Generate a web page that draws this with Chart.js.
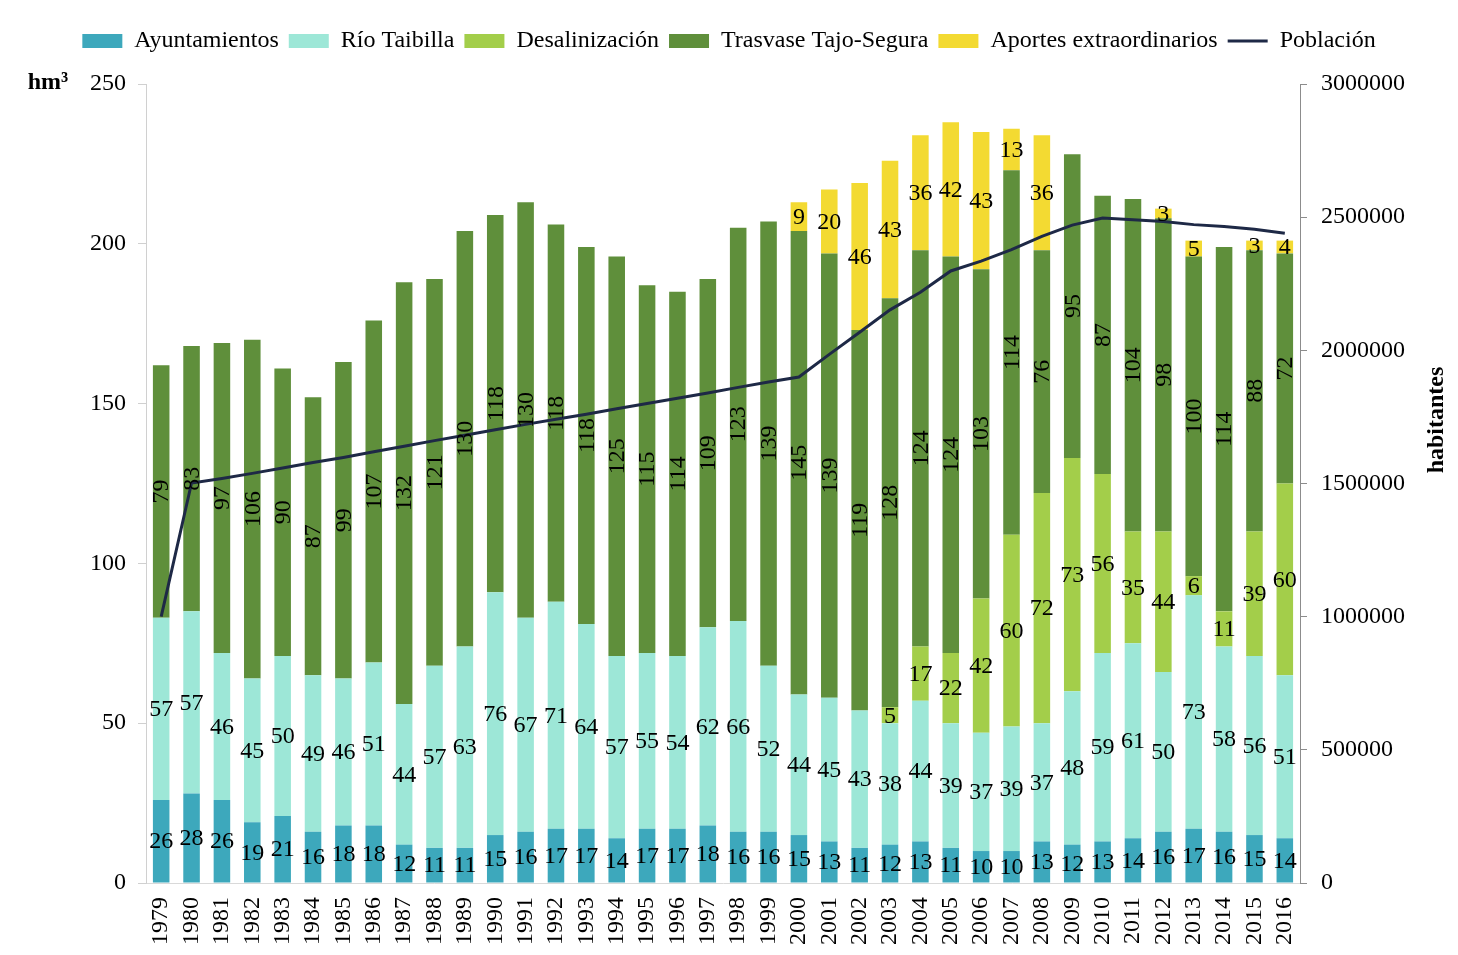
<!DOCTYPE html>
<html><head><meta charset="utf-8">
<script src="https://cdn.jsdelivr.net/npm/chart.js@4/dist/chart.umd.min.js"></script>
<style>html,body{margin:0;padding:0;background:#fff;}#wrap{width:1458px;height:955px;}</style>
</head><body><div id="wrap"><canvas id="c" width="1458" height="955"></canvas></div>
<script>
const years = ['1979','1980','1981','1982','1983','1984','1985','1986','1987','1988','1989','1990','1991','1992','1993','1994','1995','1996','1997','1998','1999','2000','2001','2002','2003','2004','2005','2006','2007','2008','2009','2010','2011','2012','2013','2014','2015','2016'];
const ayuntamientos = [26,28,26,19,21,16,18,18,12,11,11,15,16,17,17,14,17,17,18,16,16,15,13,11,12,13,11,10,10,13,12,13,14,16,17,16,15,14];
const rioTaibilla = [57,57,46,45,50,49,46,51,44,57,63,76,67,71,64,57,55,54,62,66,52,44,45,43,38,44,39,37,39,37,48,59,61,50,73,58,56,51];
const desalinizacion = [0,0,0,0,0,0,0,0,0,0,0,0,0,0,0,0,0,0,0,0,0,0,0,0,5,17,22,42,60,72,73,56,35,44,6,11,39,60];
const trasvase = [79,83,97,106,90,87,99,107,132,121,130,118,130,118,118,125,115,114,109,123,139,145,139,119,128,124,124,103,114,76,95,87,104,98,100,114,88,72];
const aportes = [0,0,0,0,0,0,0,0,0,0,0,0,0,0,0,0,0,0,0,0,0,9,20,46,43,36,42,43,13,36,0,0,0,3,5,0,3,4];
const poblacion = [1000000,1502000,1519000,1538000,1558000,1579000,1598000,1619000,1640000,1661000,1681000,1702000,1722000,1741000,1760000,1781000,1800000,1820000,1840000,1861000,1881000,1900000,1985000,2068000,2152000,2218000,2298000,2335000,2378000,2428000,2470000,2497000,2490000,2484000,2472000,2465000,2455000,2440000];
const leftTicks = [0,50,100,150,200,250];
const rightTicks = [0,500000,1000000,1500000,2000000,2500000,3000000];

const FONT = "'Liberation Serif','Times New Roman',serif";
const colors = ['#3DA8BC','#9DE7D7','#A3CE4A','#5F8F3B','#F3DA32'];
const lineColor = '#1E2946';

const labelsPlugin = {
  id: 'segLabels',
  afterDatasetsDraw(chart) {
    const ctx = chart.ctx;
    ctx.save();
    ctx.font = '24px ' + FONT;
    ctx.fillStyle = '#000';
    ctx.textAlign = 'center';
    ctx.textBaseline = 'middle';
    for (let i = 0; i < 5; i++) {
      const meta = chart.getDatasetMeta(i);
      const data = chart.data.datasets[i].data;
      meta.data.forEach((el, j) => {
        const v = data[j];
        if (!v) return;
        const cx = el.x, cy = (el.y + el.base) / 2;
        if (i === 3) {
          ctx.save(); ctx.translate(cx, cy); ctx.rotate(-Math.PI / 2);
          ctx.fillText(String(v), 0, 1); ctx.restore();
        } else {
          ctx.fillText(String(v), cx, cy + 1);
        }
      });
    }
    ctx.restore();
  },
  afterDraw(chart) {
    const ctx = chart.ctx;
    ctx.save();
    ctx.font = 'bold 24px ' + FONT;
    ctx.fillStyle = '#000';
    ctx.textAlign = 'center';
    ctx.textBaseline = 'middle';
    ctx.fillText('hm³', 48, 83);
    ctx.translate(1437, 420); ctx.rotate(-Math.PI / 2);
    ctx.fillText('habitantes', 0, 0);
    ctx.restore();
  },
  beforeLayout(chart) {
    const lg = chart.legend;
    if (lg && !lg._fitPatched) {
      const orig = lg.fit;
      lg.fit = function () { orig.call(this); this.height = 65; };
      lg._fitPatched = true;
    }
  }
};

const names = ['Ayuntamientos','Río Taibilla','Desalinización','Trasvase Tajo-Segura','Aportes extraordinarios'];
const series = [ayuntamientos, rioTaibilla, desalinizacion, trasvase, aportes];
const datasets = series.map((d, i) => ({
  type: 'bar', label: names[i], data: d, backgroundColor: colors[i], borderWidth: 0,
  stack: 's', yAxisID: 'y', order: 1, barPercentage: 0.545, categoryPercentage: 1.0
}));
datasets.push({
  type: 'line', label: 'Población', data: poblacion, yAxisID: 'y1', borderColor: lineColor,
  backgroundColor: lineColor, borderWidth: 3, pointRadius: 0, tension: 0, order: 0, fill: false
});

new Chart(document.getElementById('c'), {
  data: { labels: years, datasets },
  plugins: [labelsPlugin],
  options: {
    responsive: false, animation: false, devicePixelRatio: 1,
    layout: { padding: { top: 19, left: 0, right: 0, bottom: 0 } },
    plugins: {
      tooltip: { enabled: false },
      legend: {
        position: 'top',
        labels: {
          font: { family: FONT, size: 24 }, color: '#000',
          usePointStyle: true, pointStyleWidth: 40, boxHeight: 14, padding: 10,
          sort: (a, b) => a.datasetIndex - b.datasetIndex,
          generateLabels(chart) {
            const items = Chart.defaults.plugins.legend.labels.generateLabels(chart);
            items.forEach(it => {
              if (it.datasetIndex === 5) { it.pointStyle = 'line'; it.lineWidth = 3; it.strokeStyle = lineColor; it.fillStyle = lineColor; }
              else { it.pointStyle = 'rect'; it.lineWidth = 0; it.fillStyle = colors[it.datasetIndex]; }
            });
            return items;
          }
        }
      }
    },
    scales: {
      x: {
        stacked: true,
        grid: { display: false },
        border: { display: true, color: '#d9d9d9', width: 1 },
        ticks: { font: { family: FONT, size: 24 }, color: '#000', minRotation: 90, maxRotation: 90, autoSkip: false, padding: 6 },
        afterFit(s) { s.height = 72; }
      },
      y: {
        stacked: true, position: 'left', min: 0, max: 250,
        afterBuildTicks(s) { s.ticks = leftTicks.map(v => ({ value: v })); },
        grid: { drawOnChartArea: false, drawTicks: true, tickLength: 8, color: '#d0d0d0' },
        border: { display: true, color: '#d0d0d0', width: 1 },
        ticks: { font: { family: FONT, size: 24 }, color: '#000', padding: 12, callback: v => String(v) },
        afterFit(s) { s.width = 146; }
      },
      y1: {
        position: 'right', min: 0, max: 3000000,
        afterBuildTicks(s) { s.ticks = rightTicks.map(v => ({ value: v })); },
        grid: { drawOnChartArea: false, drawTicks: true, tickLength: 7, color: '#8c8c8c' },
        border: { display: true, color: '#8c8c8c', width: 1 },
        ticks: { font: { family: FONT, size: 24 }, color: '#000', padding: 14, callback: v => String(v) },
        afterFit(s) { s.width = 158; }
      }
    }
  }
});
</script>
</body></html>
